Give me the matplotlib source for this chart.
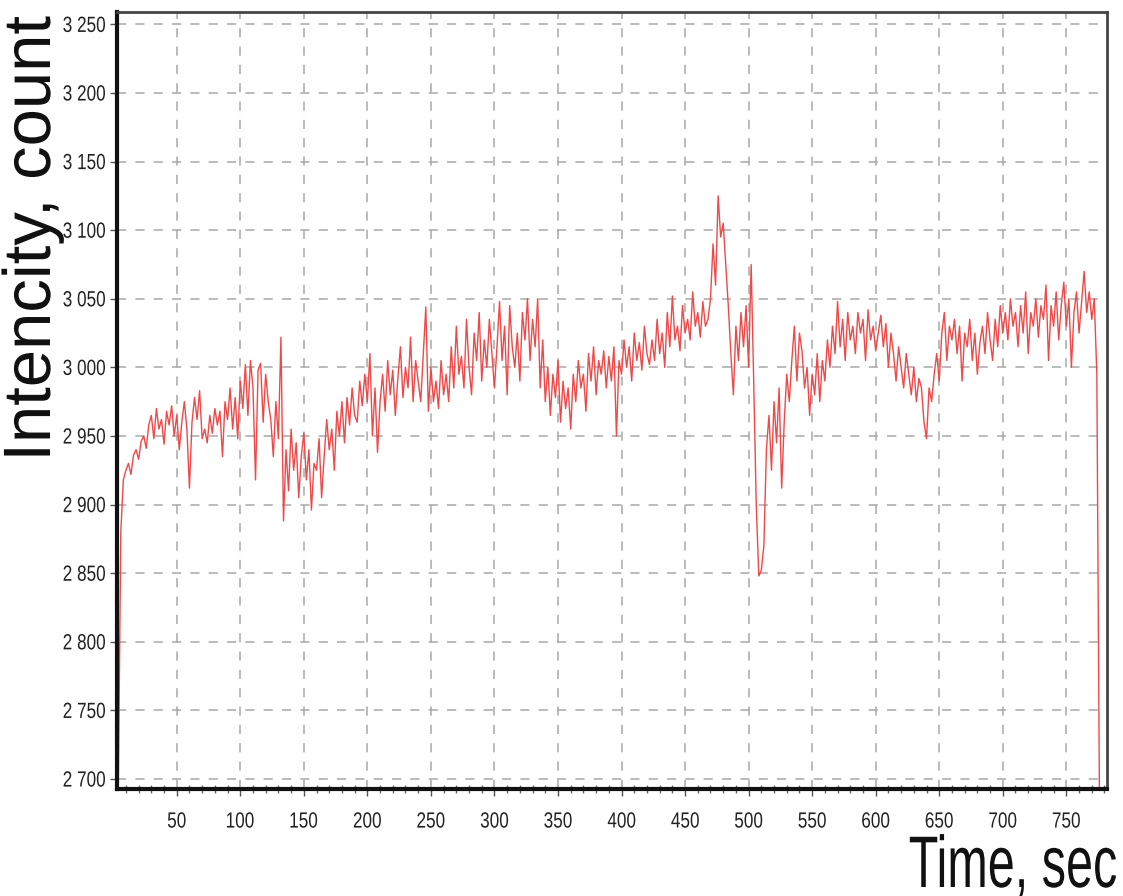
import numpy as np
import matplotlib
matplotlib.use("Agg")
from matplotlib import pyplot as plt
from matplotlib.ticker import MultipleLocator
from matplotlib.textpath import TextPath
from matplotlib.font_manager import FontProperties
from matplotlib.patches import PathPatch
from matplotlib.transforms import Affine2D, IdentityTransform

# intensity samples, one every 2 s starting at t = 4 s
intensity = [
    2692, 2880, 2918, 2925, 2930, 2922, 2936, 2940, 2933, 2946,
    2950, 2941, 2958, 2965, 2948, 2970, 2955, 2962, 2944, 2968,
    2958, 2972, 2950, 2965, 2940, 2960, 2975, 2955, 2912, 2960,
    2978, 2962, 2983, 2948, 2955, 2945, 2965, 2952, 2970, 2958,
    2968, 2935, 2975, 2962, 2985, 2955, 2978, 2948, 2990, 2970,
    3002, 2965, 3005, 2985, 2918, 2998, 3003, 2960, 2995, 2975,
    2962, 2935, 2975, 2948, 3022, 2888, 2940, 2910, 2955, 2925,
    2945, 2905, 2935, 2952, 2918, 2940, 2896, 2930, 2925, 2948,
    2905, 2935, 2962, 2940, 2955, 2925, 2968, 2950, 2975, 2945,
    2978, 2958, 2985, 2965, 2960, 2990, 2972, 2995, 2975, 3010,
    2950, 2985, 2938, 2975, 2995, 2968, 3005, 2980, 2998, 2965,
    2992, 3015, 2978, 3000, 2985, 3022, 2975, 3005, 2990, 2975,
    3010, 3044, 2968, 3000, 2975, 2990, 2970, 3005, 2980, 2995,
    2975, 3015, 2985, 3030, 2995, 3008, 2985, 3035, 3000, 2980,
    3025, 3005, 3040, 2990, 3020, 3000, 3035, 3010, 2985, 3015,
    3048, 3005, 3030, 2980, 3045, 3015, 3000, 3025, 2990, 3040,
    3020, 3050, 3005, 3035, 3015, 3050, 2985, 3020, 2975, 3000,
    2965, 2995, 2978, 3005, 2960, 2990, 2970, 2985, 2955, 2995,
    2975, 3005, 2985, 2995, 2968, 3010, 2990, 3015, 2980, 3005,
    2995, 3012, 2985, 3008, 2990, 3015, 2950, 3005, 2995, 3020,
    3000, 3015, 2990, 3025, 3005, 3018, 2998, 3030, 3010, 3002,
    3020, 3005, 3035, 3010, 3025, 3000, 3040, 3015, 3052, 3020,
    3030, 3012, 3045, 3025, 3035, 3020, 3055, 3030, 3040, 3022,
    3048, 3030, 3035, 3050, 3090, 3060, 3125, 3095, 3105, 3075,
    3045, 3010, 2980, 3030, 3005, 3040, 3015, 3045, 3000, 3075,
    2990, 2900, 2848, 2852, 2870, 2940, 2965, 2925, 2975, 2945,
    2985, 2912, 2960, 2995, 2975, 3005, 3030, 2990, 3025, 3012,
    2985, 3000, 2965, 2995, 2980, 3010, 2975, 3005, 2990, 3020,
    3000, 3030, 3010, 3048, 3015, 3035, 3005, 3040, 3020, 3030,
    3010, 3040, 3025, 3035, 3005, 3042, 3020, 3030, 3012, 3025,
    3038, 3015, 3032, 3000, 3025, 3010, 2990, 3015, 3000, 2985,
    3010, 2995, 2980, 3000, 2975, 2992, 2985, 2960, 2948, 2985,
    2975, 2995, 3010, 2990, 3025, 3040, 3005, 3030, 3020, 3035,
    3010, 3030, 2990, 3025, 3015, 3035, 3005, 3025, 2995, 3018,
    3030, 3010, 3040, 3020, 3005, 3035, 3015, 3045, 3025, 3040,
    3020, 3050, 3030, 3040, 3015, 3045, 3025, 3055, 3010, 3040,
    3030, 3050, 3022, 3045, 3035, 3060, 3005, 3045, 3030, 3055,
    3020, 3045, 3062, 3030, 3050, 3000, 3040, 3055, 3025, 3048,
    3070, 3040, 3055, 3035, 3050, 2995, 2692,
]
time = 4 + 2 * np.arange(len(intensity))

x_ticks = list(range(50, 751, 50))
y_ticks = list(range(2700, 3251, 50))
x_labels = [str(v) for v in x_ticks]
y_labels = ["{} {:03d}".format(v // 1000, v % 1000) for v in y_ticks]

W, H = 1123, 896
font = FontProperties(family="Liberation Sans")


def draw_text(fig, x, y, s, size, sx=1.0, ha="center", va="center", rot=0, color="#222222"):
    # text as an outline path so it can be squeezed horizontally (narrow face)
    # x, y are pixels from the top-left corner
    path = TextPath((0, 0), s, size=size, prop=font)
    ext = path.get_extents()
    ax0 = {"left": ext.x0, "center": (ext.x0 + ext.x1) / 2, "right": ext.x1}[ha]
    ay0 = {"bottom": ext.y0, "center": (ext.y0 + ext.y1) / 2, "top": ext.y1, "baseline": 0}[va]
    tr = Affine2D().translate(-ax0, -ay0).scale(sx, 1).rotate_deg(rot).translate(x, H - y)
    patch = PathPatch(tr.transform_path(path), transform=IdentityTransform(),
                      facecolor=color, edgecolor="none")
    fig.add_artist(patch)


fig = plt.figure(figsize=(W / 100, H / 100), dpi=100)
ax = fig.add_axes([117 / W, 1 - 789 / H, 990 / W, 777 / H])

ax.plot(time, intensity, color="#f04848", linewidth=1.0)

ax.set_xlim(3, 782)
ax.set_ylim(2692.7, 3259)
ax.set_xticks(x_ticks)
ax.set_yticks(y_ticks)
ax.xaxis.set_minor_locator(MultipleLocator(10))

ax.grid(True, which="major", color="#a8a8a8", linestyle=(0, (6, 6)), linewidth=1.1)
ax.tick_params(axis="both", which="major", direction="out", length=5, width=1, color="#555555",
               labelbottom=False, labelleft=False)
ax.tick_params(axis="x", which="minor", direction="inout", length=6, width=1, color="#666666")

ax.spines["left"].set_linewidth(3)
ax.spines["bottom"].set_linewidth(3)
ax.spines["left"].set_color("#111111")
ax.spines["bottom"].set_color("#111111")
ax.spines["top"].set_linewidth(2)
ax.spines["right"].set_linewidth(2)
ax.spines["top"].set_color("#444444")
ax.spines["right"].set_color("#444444")

# tick labels placed from the data transform
for v, lab in zip(x_ticks, x_labels):
    px = ax.transData.transform((v, y_ticks[0]))[0]
    draw_text(fig, px, 820, lab, 22, sx=0.78, ha="center", va="center")
for v, lab in zip(y_ticks, y_labels):
    py = H - ax.transData.transform((x_ticks[0], v))[1]
    draw_text(fig, 105, py, lab, 22, sx=0.78, ha="right", va="center")

draw_text(fig, 50, 236, "Intencity, count", 67, ha="center", va="baseline", rot=90, color="#111111")
draw_text(fig, 1116, 887, "Time, sec", 73, sx=0.665, ha="right", va="baseline", color="#111111")

fig.savefig("out.png", dpi=100)
